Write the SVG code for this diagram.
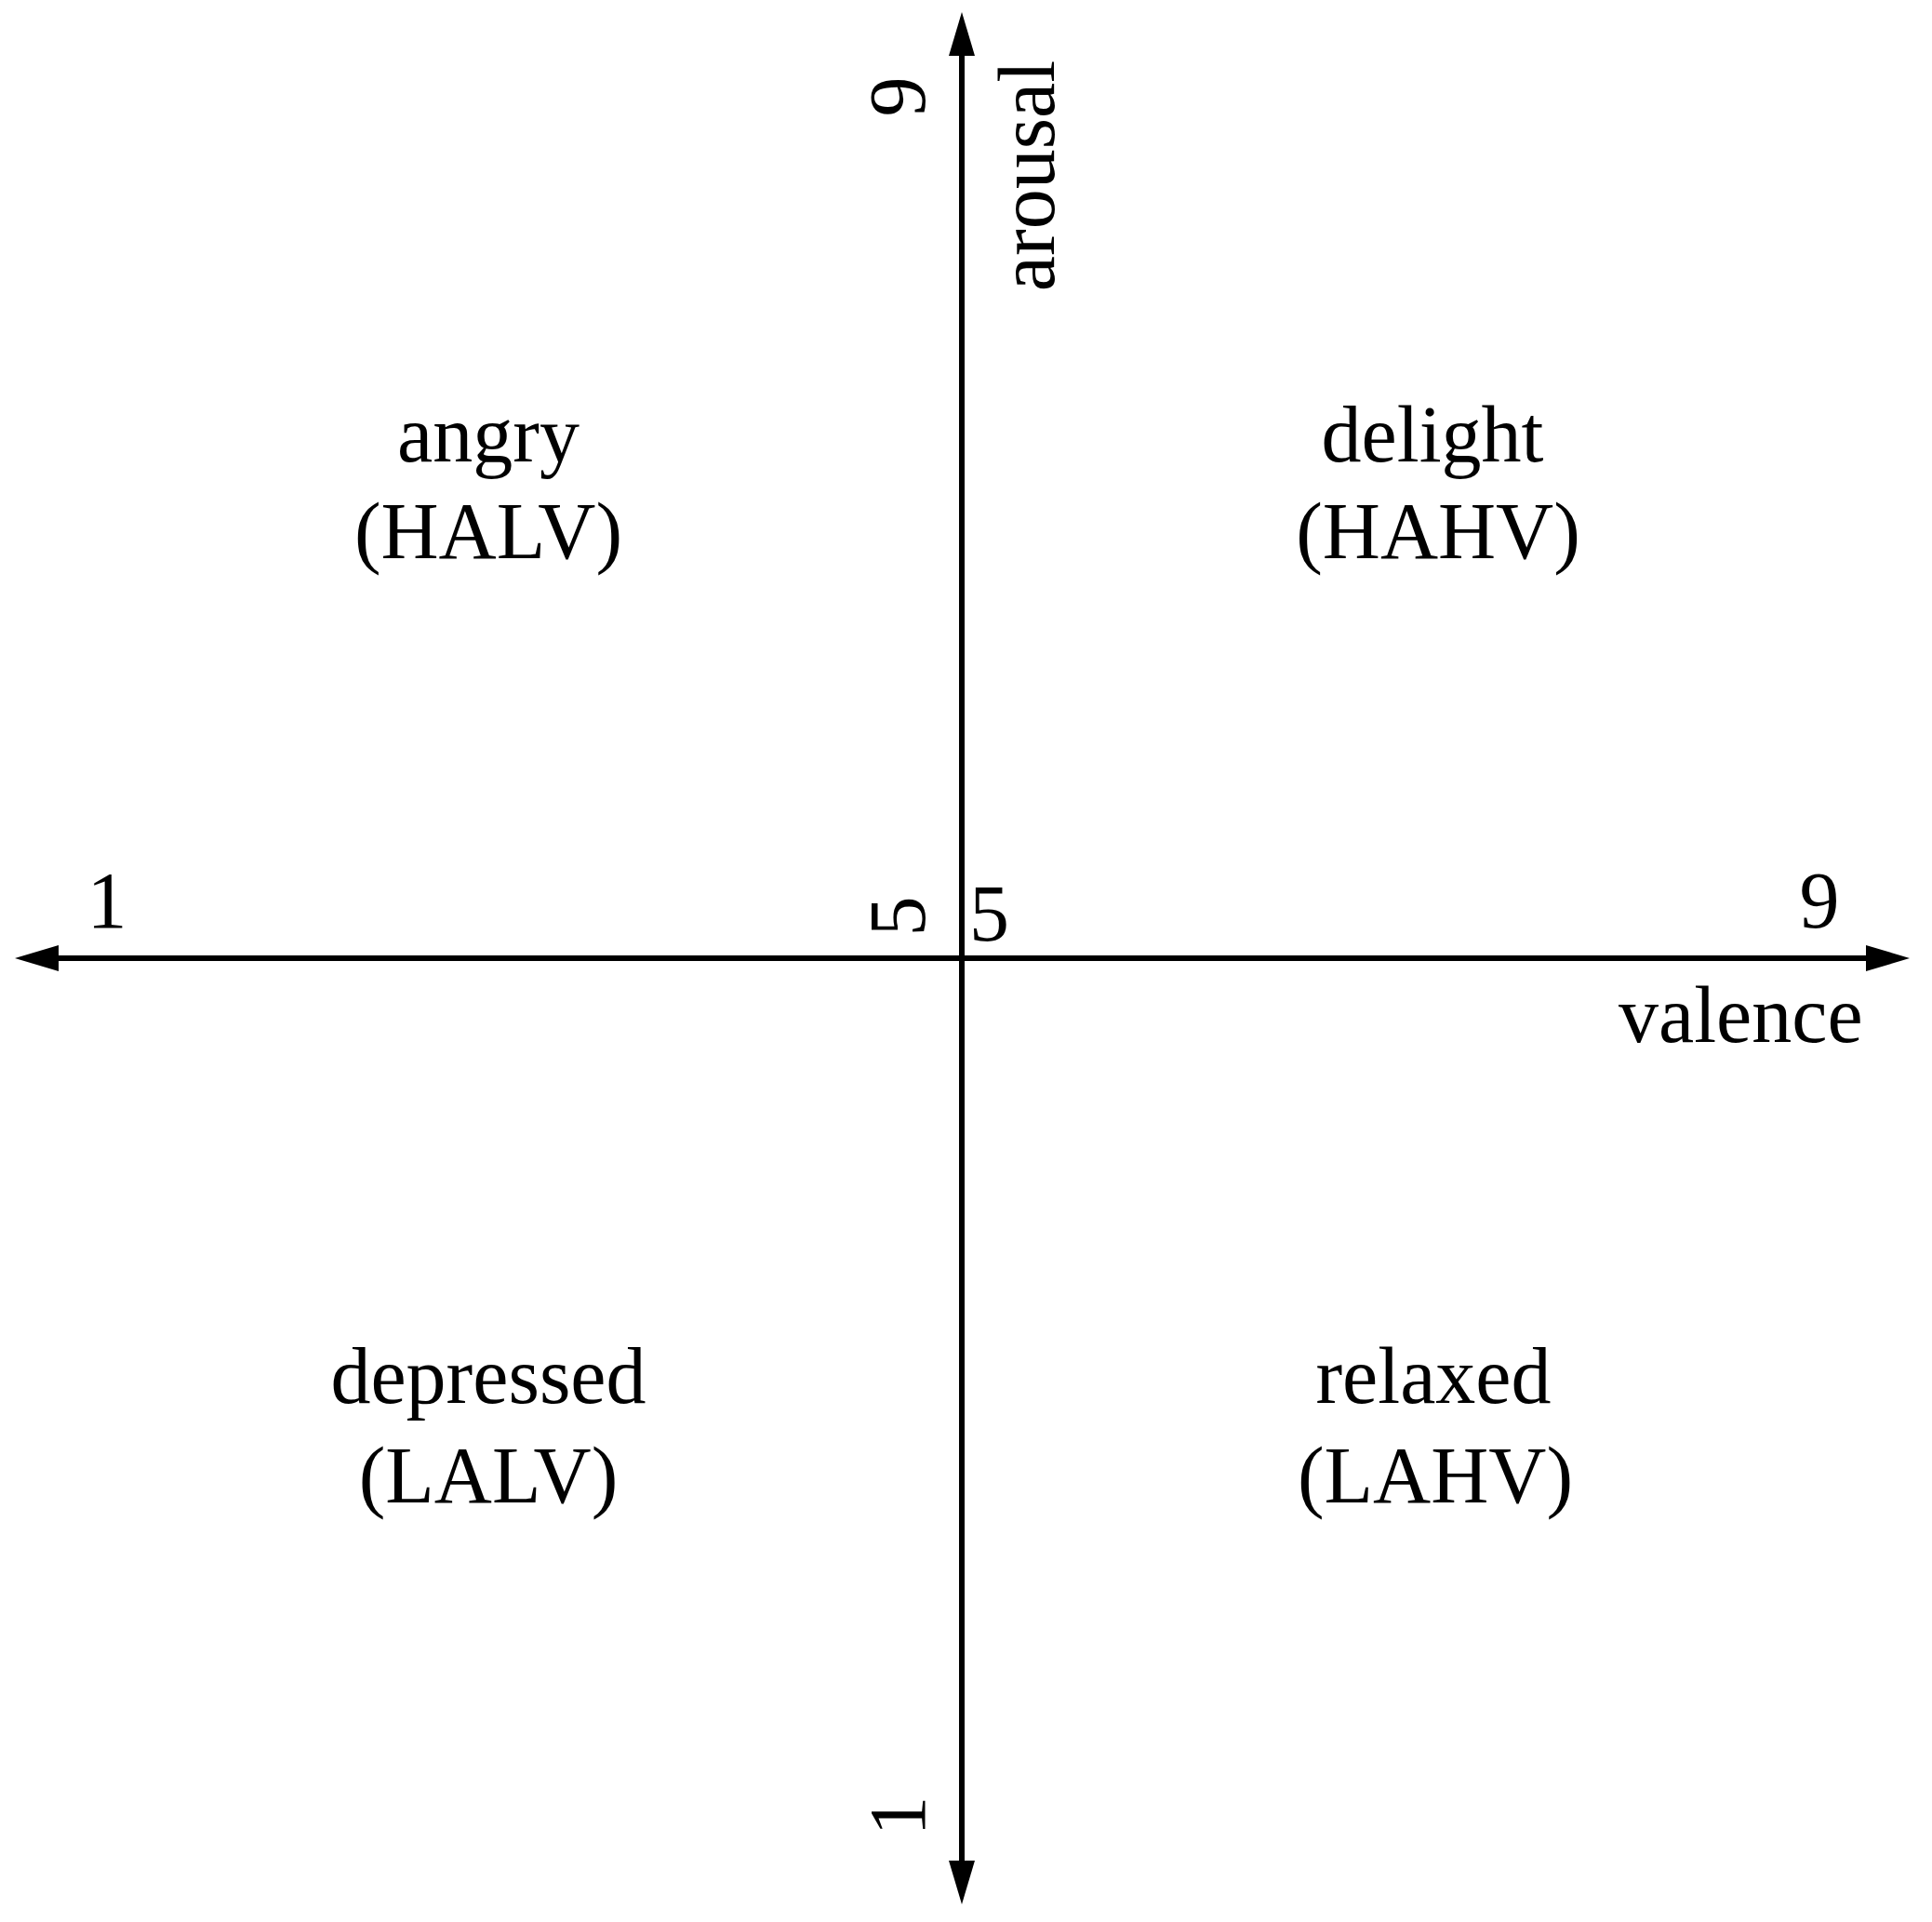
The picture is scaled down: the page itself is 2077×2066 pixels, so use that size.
<svg xmlns="http://www.w3.org/2000/svg" width="2077" height="2066" viewBox="0 0 2077 2066">
  <style>
    text { font-family: "Liberation Serif", "Times New Roman", serif; font-size: 86px; fill: #000; }
    .mid { text-anchor: middle; }
    .axis { stroke: #000; stroke-width: 6; fill: none; }
  </style>
  <defs>
    <marker id="arrow" markerUnits="userSpaceOnUse" viewBox="0 0 47 28" refX="0" refY="14" markerWidth="47" markerHeight="28" orient="auto-start-reverse">
      <path d="M0,0 L47,14 L0,28 Z" fill="#000"/>
    </marker>
  </defs>
  <rect width="2077" height="2066" fill="#fff"/>
  <g id="connectors">
    <line class="axis" x1="63" y1="1030" x2="2006" y2="1030" marker-start="url(#arrow)" marker-end="url(#arrow)"/>
    <line class="axis" x1="1034" y1="2000" x2="1034" y2="60" marker-start="url(#arrow)" marker-end="url(#arrow)"/>
  </g>
  <g id="axis-labels">
    <text x="115" y="997" class="mid">1</text>
    <text x="1956" y="997" class="mid">9</text>
    <text x="1042" y="1011">5</text>
    <text x="1740" y="1120">valence</text>
    <text class="mid" transform="translate(994,985) rotate(-90)">5</text>
    <text class="mid" transform="translate(994,104) rotate(-90)">9</text>
    <text class="mid" transform="translate(994,1952) rotate(-90)">1</text>
    <text class="mid" transform="translate(1133,189) rotate(-90)">arousal</text>
  </g>
  <g id="halv">
    <text x="525" y="496" class="mid">angry</text>
    <text x="525" y="600" class="mid">(HALV)</text>
  </g>
  <g id="hahv">
    <text x="1540" y="496" class="mid">delight</text>
    <text x="1546" y="600" class="mid">(HAHV)</text>
  </g>
  <g id="lalv">
    <text x="525" y="1508" class="mid">depressed</text>
    <text x="525" y="1615" class="mid">(LALV)</text>
  </g>
  <g id="lahv">
    <text x="1541" y="1508" class="mid">relaxed</text>
    <text x="1543" y="1615" class="mid">(LAHV)</text>
  </g>
</svg>
